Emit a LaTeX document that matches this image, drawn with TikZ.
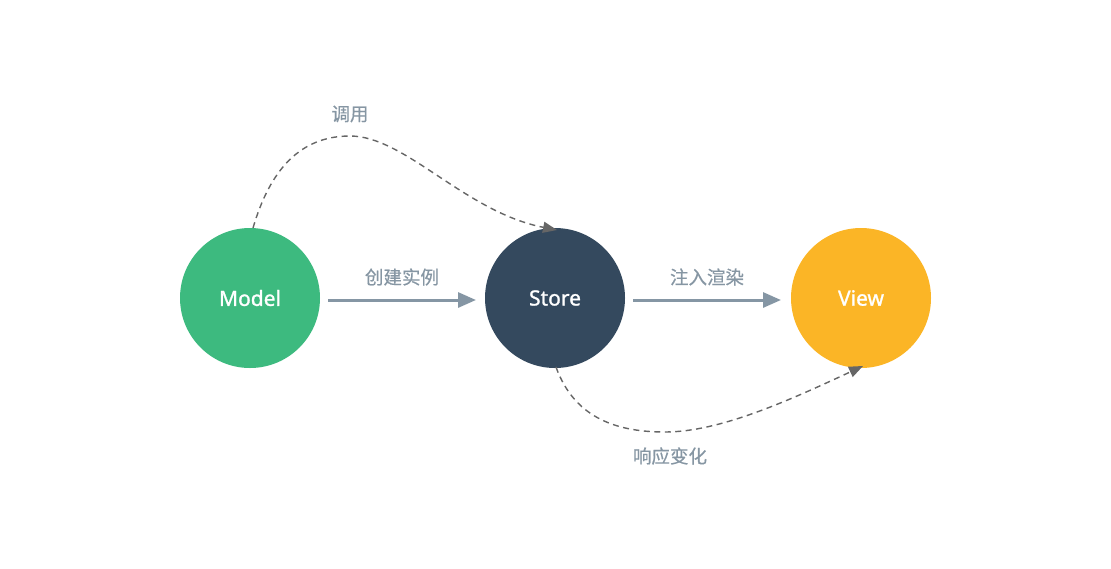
\documentclass[tikz,border=0pt]{standalone}
\usepackage{fontspec}
\setmainfont{Noto Sans}
\newfontfamily\medfont{Noto Sans}[FakeBold=1.2]
\newfontfamily\cjk{Noto Sans CJK SC}[FakeBold=0.6]
\usetikzlibrary{arrows.meta}
\definecolor{cgreen}{HTML}{3DBA7F}
\definecolor{cdark}{HTML}{34495E}
\definecolor{cyellow}{HTML}{FBB526}
\definecolor{carrow}{HTML}{8596A4}
\definecolor{clabel}{HTML}{8696A3}
\definecolor{cdash}{HTML}{666666}
\tikzset{
  circ/.style={circle, minimum size=140pt, inner sep=0pt, text=white, font=\medfont\fontsize{21}{25}\selectfont},
  lbl/.style={text=clabel, font=\cjk\fontsize{18.5}{22}\selectfont, inner sep=0pt},
  solidarrow/.style={draw=carrow, line width=3pt, -{Triangle[length=18pt,width=15pt]}},
  dasharrow/.style={draw=cdash, line width=1.4pt, dash pattern=on 6pt off 4.5pt, -{Triangle[length=14pt,width=11pt]}}
}
\begin{document}
\begin{tikzpicture}[x=1pt,y=-1pt]
\useasboundingbox (0,0) rectangle (1111,568);
\node[circ, fill=cgreen] (model) at (250,298) {Model};
\node[circ, fill=cdark] (store) at (555,298) {Store};
\node[circ, fill=cyellow] (view) at (861,298) {View};
\coordinate (a1s) at (328,300);
\coordinate (a1e) at (476,300);
\coordinate (a2s) at (633,300);
\coordinate (a2e) at (781,300);
\draw[solidarrow] (a1s) -- (a1e);
\draw[solidarrow] (a2s) -- (a2e);
\coordinate (topS) at (253,228);
\coordinate (topP) at (350,136);
\coordinate (topE) at (557,230);
\draw[dasharrow] (topS) .. controls (270,170) and (300,136) .. (topP) .. controls (405,136) and (465,212) .. (topE);
\coordinate (botS) at (556,367);
\coordinate (botP) at (665,432);
\coordinate (botE) at (863,366);
\draw[dasharrow] (botS) .. controls (575,420) and (620,432) .. (botP) .. controls (720,432) and (790,400) .. (botE);
\node[lbl] (l1) at (350,114) {调用};
\node[lbl] (l2) at (402,277) {创建实例};
\node[lbl] (l3) at (707,277) {注入渲染};
\node[lbl] (l4) at (670,456) {响应变化};
\end{tikzpicture}
\end{document}
